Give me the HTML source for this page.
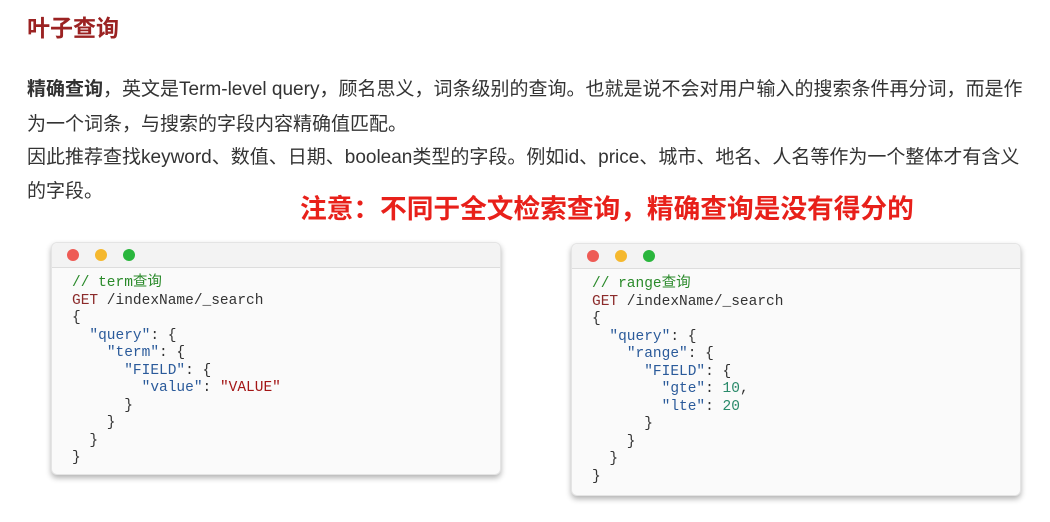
<!DOCTYPE html>
<html><head><meta charset="utf-8"><style>
body{margin:0;width:1050px;height:522px;background:#fff;position:relative;overflow:hidden;font-family:"Liberation Sans","Noto Sans CJK SC",sans-serif;}
.t{position:absolute;white-space:nowrap;}
.p{font-size:19px;color:#333;left:27px;}
.box{position:absolute;background:#fafafa;border-radius:6px;box-shadow:0 3px 6px rgba(0,0,0,.3);border:1px solid #e4e4e4;}
.bar{height:24px;background:#f3f3f3;border-bottom:1px solid #ddd;border-radius:6px 6px 0 0;position:relative;}
.dot{position:absolute;top:6px;width:12px;height:12px;border-radius:50%;}
pre{margin:0;position:absolute;left:20px;top:32px;font-family:"Liberation Mono","Noto Sans CJK SC",monospace;font-size:14.5px;line-height:17.5px;color:#333;}
.c{color:#2a8a2a}.g{color:#8b2a2a}.k{color:#2a5a9a}.s{color:#a31515}.n{color:#2a8a6a}
</style></head><body>
<div class="t" style="left:27px;top:9px;font-size:23px;font-weight:bold;color:#9b2222;">叶子查询</div>
<div class="t p" style="top:74px;"><b>精确查询</b>，英文是Term-level query，顾名思义，词条级别的查询。也就是说不会对用户输入的搜索条件再分词，而是作</div>
<div class="t p" style="top:109px;">为一个词条，与搜索的字段内容精确值匹配。</div>
<div class="t p" style="top:142px;">因此推荐查找keyword、数值、日期、boolean类型的字段。例如id、price、城市、地名、人名等作为一个整体才有含义</div>
<div class="t p" style="top:176px;">的字段。</div>
<div class="t" style="left:300px;top:187px;font-size:26.7px;font-weight:bold;color:#e8201a;">注意：不同于全文检索查询，精确查询是没有得分的</div>

<div class="box" style="left:51px;top:242px;width:448px;height:231px;">
<div class="bar"><span class="dot" style="left:15px;background:#ee5b55"></span><span class="dot" style="left:43px;background:#f5b82e"></span><span class="dot" style="left:71px;background:#2ab63d"></span></div>
<pre><span class="c">// term查询</span>
<span class="g">GET</span> /indexName/_search
{
  <span class="k">"query"</span>: {
    <span class="k">"term"</span>: {
      <span class="k">"FIELD"</span>: {
        <span class="k">"value"</span>: <span class="s">"VALUE"</span>
      }
    }
  }
}</pre></div>

<div class="box" style="left:571px;top:243px;width:448px;height:251px;">
<div class="bar"><span class="dot" style="left:15px;background:#ee5b55"></span><span class="dot" style="left:43px;background:#f5b82e"></span><span class="dot" style="left:71px;background:#2ab63d"></span></div>
<pre><span class="c">// range查询</span>
<span class="g">GET</span> /indexName/_search
{
  <span class="k">"query"</span>: {
    <span class="k">"range"</span>: {
      <span class="k">"FIELD"</span>: {
        <span class="k">"gte"</span>: <span class="n">10</span>,
        <span class="k">"lte"</span>: <span class="n">20</span>
      }
    }
  }
}</pre></div>
</body></html>
